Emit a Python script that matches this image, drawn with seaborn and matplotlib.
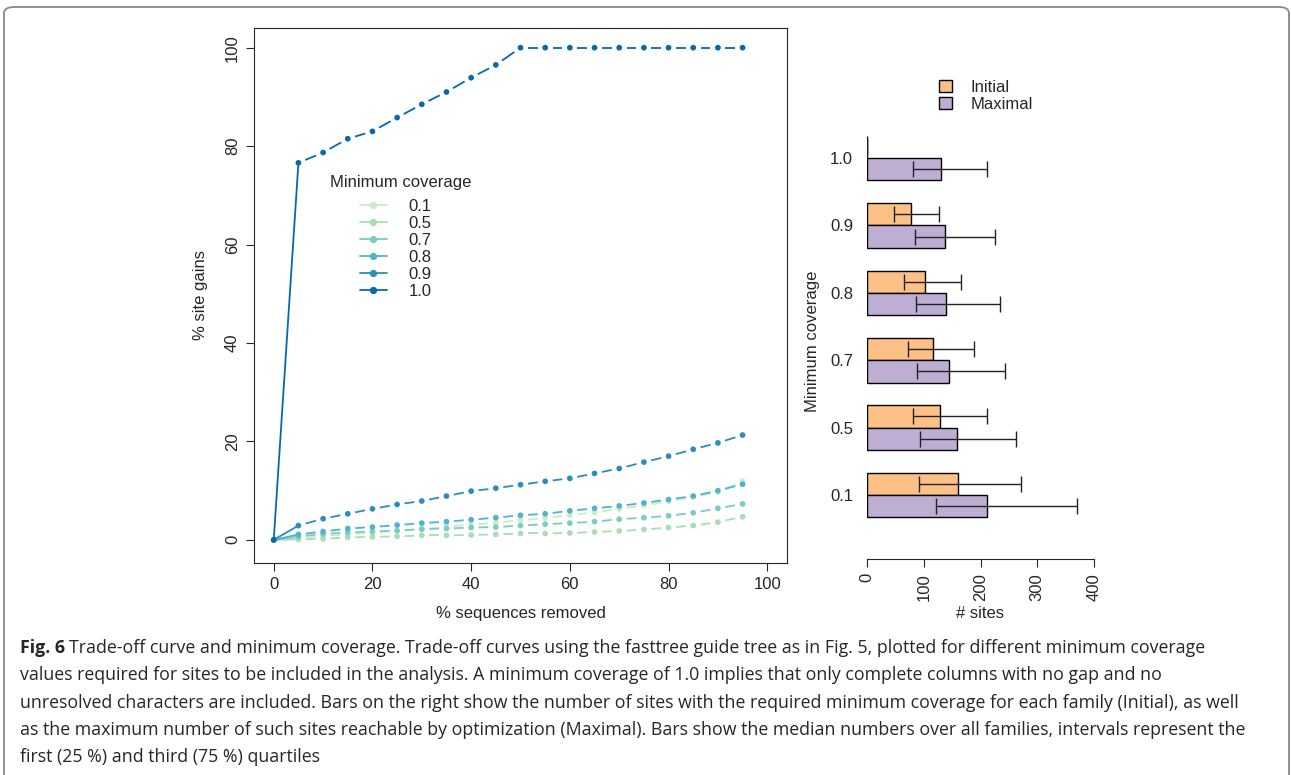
"""
Trade-off curves and minimum coverage bars (Fig. 6 recreation)
"""

import numpy as np
import pandas as pd
import matplotlib
matplotlib.use("Agg")
import matplotlib.pyplot as plt
from matplotlib.lines import Line2D
from matplotlib.patches import Patch, FancyBboxPatch
import seaborn as sns

# trade-off curves: % site gains for each minimum coverage
pct_removed = [0, 5, 10, 15, 20, 25, 30, 35, 40, 45, 50, 55, 60, 65, 70, 75, 80, 85, 90, 95]
gain_01 = [0, 0.3, 0.8, 1.1, 1.5, 1.8, 2.1, 2.7, 3.1, 3.5, 4.0, 4.4, 5.0, 5.6, 6.3, 7.0, 7.8, 8.7, 9.7, 11.9]
gain_05 = [0, 0.1, 0.2, 0.5, 0.6, 0.7, 0.9, 0.9, 1.0, 1.1, 1.3, 1.3, 1.4, 1.6, 1.8, 2.1, 2.5, 2.9, 3.6, 4.7]
gain_07 = [0, 0.7, 1.2, 1.5, 1.7, 1.9, 2.2, 2.3, 2.5, 2.6, 2.9, 3.2, 3.4, 3.7, 4.2, 4.5, 4.9, 5.5, 6.4, 7.3]
gain_08 = [0, 1.1, 1.7, 2.3, 2.6, 3.0, 3.4, 3.7, 4.1, 4.5, 5.0, 5.3, 5.9, 6.4, 6.9, 7.5, 8.2, 8.9, 10.0, 11.3]
gain_09 = [0, 2.9, 4.3, 5.3, 6.3, 7.2, 7.9, 8.9, 9.9, 10.5, 11.2, 11.9, 12.5, 13.5, 14.5, 15.8, 17.0, 18.4, 19.7, 21.3]
gain_10 = [0, 76.6, 78.7, 81.5, 83.0, 85.8, 88.5, 91.0, 93.9, 96.5,
           100, 100, 100, 100, 100, 100, 100, 100, 100, 100]
coverage_labels = ['0.1', '0.5', '0.7', '0.8', '0.9', '1.0']
line_colors = ['#ccebc5', '#a8ddb5', '#7bccc4', '#4eb3d3', '#2b8cbe', '#0868ac']

# number of sites: median and quartiles per minimum coverage
bar_coverage = ['1.0', '0.9', '0.8', '0.7', '0.5', '0.1']
initial_median = [0, 78, 102, 116, 129, 160]
initial_q1 = [0, 48, 65, 72, 81, 92]
initial_q3 = [0, 126, 166, 189, 212, 272]
maximal_median = [131, 138, 140, 144, 159, 212]
maximal_q1 = [81, 84, 86, 88, 93, 121]
maximal_q3 = [212, 226, 235, 243, 262, 370]
bar_colors = ['#fdc086', '#beaed4']

caption_lines = [
    "Trade-off curve and minimum coverage. Trade-off curves using the fasttree guide tree as in Fig. 5, plotted for different minimum coverage",
    "values required for sites to be included in the analysis. A minimum coverage of 1.0 implies that only complete columns with no gap and no",
    "unresolved characters are included. Bars on the right show the number of sites with the required minimum coverage for each family (Initial), as well",
    "as the maximum number of such sites reachable by optimization (Maximal). Bars show the median numbers over all families, intervals represent the",
    "first (25 %) and third (75 %) quartiles",
]

sns.set_style("ticks")
plt.rcParams['font.family'] = ['Liberation Sans', 'DejaVu Sans']
plt.rcParams['font.size'] = 12

W, H = 1291, 775
fig = plt.figure(figsize=(W / 100, H / 100), dpi=100)


def gapped_line(ax, xs, ys, color, gap_px=7.5, lw=1.3):
    """Segments that stop short of the points, like R's type = 'b'."""
    pts = ax.transData.transform(np.column_stack([xs, ys]))
    inv = ax.transData.inverted()
    for p, q in zip(pts[:-1], pts[1:]):
        d = q - p
        length = np.hypot(*d)
        if length <= 2 * gap_px:
            continue
        u = d / length
        seg = inv.transform(np.array([p + u * gap_px, q - u * gap_px]))
        ax.plot(seg[:, 0], seg[:, 1], color=color, lw=lw, solid_capstyle='butt')


# ---- left: trade-off curves ----
curves = pd.DataFrame({
    'removed': pct_removed * 6,
    'gain': gain_01 + gain_05 + gain_07 + gain_08 + gain_09 + gain_10,
    'coverage': sum([[c] * len(pct_removed) for c in coverage_labels], []),
})
ax = fig.add_axes([254 / W, 1 - 563 / H, 533 / W, 535 / H])
ax.set_xlim(-4, 104)
ax.set_ylim(-4.7, 104)

head = curves[curves['removed'] <= 5]
sns.lineplot(data=head, x='removed', y='gain', hue='coverage', hue_order=coverage_labels,
             palette=line_colors, legend=False, ax=ax, lw=1.3, estimator=None)
for cov, col in zip(coverage_labels, line_colors):
    part = curves[(curves['coverage'] == cov) & (curves['removed'] >= 5)]
    gapped_line(ax, part['removed'].values, part['gain'].values, col)
sns.scatterplot(data=curves, x='removed', y='gain', hue='coverage', hue_order=coverage_labels,
                palette=line_colors, s=17, linewidth=0, legend=False, ax=ax, zorder=3)

ax.set_xlim(-4, 104)
ax.set_ylim(-4.7, 104)
ax.set_xticks(np.arange(0, 101, 20))
ax.set_yticks(np.arange(0, 101, 20))
ax.tick_params(length=6, width=0.8, pad=4, labelsize=12)
plt.setp(ax.get_yticklabels(), rotation=90, va='center')
ax.set_xlabel('% sequences removed', fontsize=12, labelpad=10)
ax.set_ylabel('% site gains', fontsize=12, labelpad=12)
for sp in ax.spines.values():
    sp.set_linewidth(0.8)

ax.text((330 - 254) / 533, (563 - 182) / 535, 'Minimum coverage', transform=ax.transAxes,
        fontsize=12, ha='left', va='center')
handles = [Line2D([], [], color=c, lw=1.3, marker='o', markersize=4.2) for c in line_colors]
ax.legend(handles, coverage_labels, loc='upper left',
          bbox_to_anchor=((360 - 254) / 533, (563 - 199) / 535), frameon=False,
          fontsize=12, handlelength=1.6, handletextpad=1.3,
          labelspacing=0.12, borderpad=0, borderaxespad=0)

# ---- right: number of sites ----
sites = pd.DataFrame({
    'coverage': bar_coverage * 2,
    'sites': initial_median + maximal_median,
    'kind': ['Initial'] * 6 + ['Maximal'] * 6,
})
bx = fig.add_axes([867 / W, 1 - 559 / H, 227 / W, 436 / H])
sns.barplot(data=sites, y='coverage', x='sites', hue='kind', order=bar_coverage,
            hue_order=['Initial', 'Maximal'], palette=bar_colors, saturation=1,
            width=0.662, edgecolor='black', linewidth=1, orient='h', legend=False, ax=bx)

lows = [initial_q1, maximal_q1]
highs = [initial_q3, maximal_q3]
meds = [initial_median, maximal_median]
bar_conts = list(bx.containers)
for k, cont in enumerate(bar_conts):
    for i, p in enumerate(cont.patches):
        yc = p.get_y() + p.get_height() / 2
        m = meds[k][i]
        bx.errorbar(m, yc, xerr=[[m - lows[k][i]], [highs[k][i] - m]], fmt='none',
                    ecolor='#222222', elinewidth=1, capsize=5.5, capthick=1)

bx.set_xlim(0, 400)
bx.set_ylim(5.95, -0.52)
bx.set_xticks(np.arange(0, 401, 100))
bx.tick_params(axis='x', length=6, width=0.8, pad=4, labelsize=12, labelrotation=90)
bx.tick_params(axis='y', length=0, pad=10, labelsize=12)
for s in ['left', 'top', 'right']:
    bx.spines[s].set_visible(False)
bx.spines['bottom'].set_linewidth(0.8)
bx.spines['bottom'].set_bounds(0, 400)
bx.set_xlabel('# sites', fontsize=12, labelpad=4)
bx.set_ylabel('Minimum coverage', fontsize=12, labelpad=7)

fig.legend([Patch(facecolor=c, edgecolor='black', lw=1) for c in bar_colors],
           ['Initial', 'Maximal'], loc='upper left',
           bbox_to_anchor=(939 / W, 1 - 80 / H), frameon=False, fontsize=12,
           handlelength=0.8, handleheight=0.7, handletextpad=1.1,
           labelspacing=0.12, borderpad=0, borderaxespad=0)

# ---- caption ----
cap_font = ['Open Sans', 'DejaVu Sans']
cap_size = 12.8
y0 = 648
for i, line in enumerate(caption_lines):
    y = 1 - (y0 + i * 27.3) / H
    if i == 0:
        t0 = fig.text(20 / W, y, 'Fig. 6', fontsize=cap_size, weight='bold',
                      family=cap_font, va='center')
        fig.add_artist(plt.Annotation(line, xy=(1, 0.5), xycoords=t0,
                                      xytext=(3, 0), textcoords='offset points',
                                      va='center', fontsize=cap_size, family=cap_font))
    else:
        fig.text(20 / W, y, line, fontsize=cap_size, family=cap_font, va='center')

# outer panel frame
frame = FancyBboxPatch((4 / W, -0.05), (1289 - 4) / W, 1.05 - 7 / H,
                       boxstyle='round,pad=0,rounding_size=0.008',
                       transform=fig.transFigure, fc='none', ec='#8a8a8a', lw=1.3)
fig.add_artist(frame)

fig.savefig('out.png', dpi=100)
